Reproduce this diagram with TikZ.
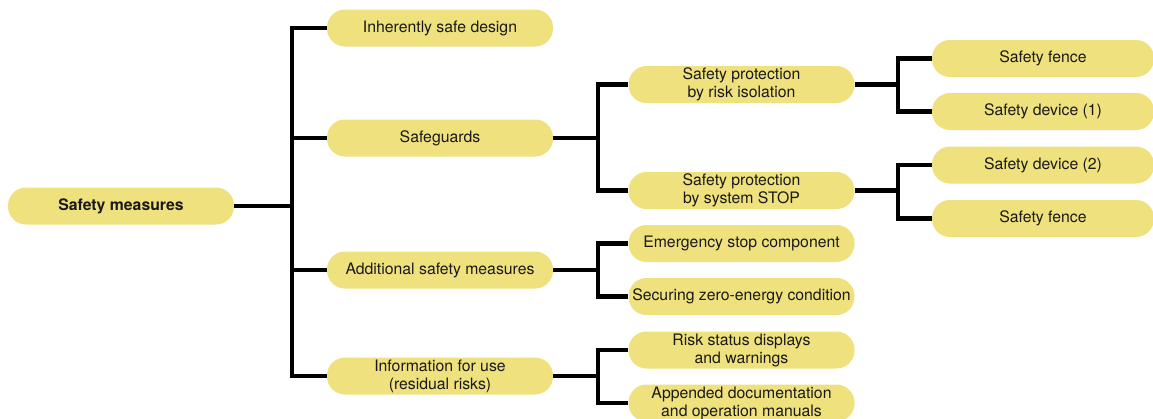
\documentclass[tikz,border=0pt]{standalone}
\usepackage{fontspec}
\setmainfont{TeX Gyre Heros}
\definecolor{boxfill}{RGB}{239,225,125}
\definecolor{txt}{RGB}{25,25,25}
\begin{document}
\begin{tikzpicture}[x=1pt,y=-1pt,
  box/.style={rectangle, rounded corners=18pt, fill=boxfill, draw=none,
    minimum width=226pt, minimum height=37pt, inner sep=0pt, align=center,
    text=txt, font=\fontsize{15.8}{18}\selectfont},
  leaf/.style={box, minimum width=222pt},
  conn/.style={draw=black, line width=4.2pt, line join=miter}]
\useasboundingbox (0,0) rectangle (1153,418);
\clip (0,0) rectangle (1153,418);
% nodes
\node[box, font=\fontsize{15.8}{18}\selectfont\bfseries] (sm) at (121,206) {Safety measures};
\node[box] (isd) at (440,28) {Inherently safe design};
\node[box] (sg) at (440,138) {Safeguards};
\node[box] (asm) at (440,270) {Additional safety measures};
\node[box] (ifu) at (440,376) {Information for use\\(residual risks)};
\node[box] (ri) at (741.5,84.5) {Safety protection\\by risk isolation};
\node[box] (ss) at (741.5,190.5) {Safety protection\\by system STOP};
\node[box] (es) at (741.5,243.5) {Emergency stop component};
\node[box] (ze) at (741.5,296.5) {Securing zero-energy condition};
\node[box] (rs) at (741.5,350) {Risk status displays\\and warnings};
\node[box] (ad) at (741.5,403) {Appended documentation\\and operation manuals};
\node[leaf] (sf1) at (1043,58.5) {Safety fence};
\node[leaf] (sd1) at (1043,111.5) {Safety device (1)};
\node[leaf] (sd2) at (1043,165) {Safety device (2)};
\node[leaf] (sf2) at (1043,218.5) {Safety fence};
% junctions
\coordinate (j1) at (292,206);
\coordinate (j2) at (598,138);
\coordinate (j3) at (598,270);
\coordinate (j4) at (598,376);
\coordinate (j5) at (898,84.5);
\coordinate (j6) at (898,190.5);
% connectors
\draw[conn] (sm.east) -- (j1);
\draw[conn] (isd.west) -| (j1) |- (ifu.west);
\draw[conn] (j1 |- sg.west) -- (sg.west);
\draw[conn] (j1 |- asm.west) -- (asm.west);
\draw[conn] (sg.east) -- (j2);
\draw[conn] (ri.west) -| (j2) |- (ss.west);
\draw[conn] (asm.east) -- (j3);
\draw[conn] (es.west) -| (j3) |- (ze.west);
\draw[conn] (ifu.east) -- (j4);
\draw[conn] (rs.west) -| (j4) |- (ad.west);
\draw[conn] (ri.east) -- (j5);
\draw[conn] (sf1.west) -| (j5) |- (sd1.west);
\draw[conn] (ss.east) -- (j6);
\draw[conn] (sd2.west) -| (j6) |- (sf2.west);
\end{tikzpicture}
\end{document}
